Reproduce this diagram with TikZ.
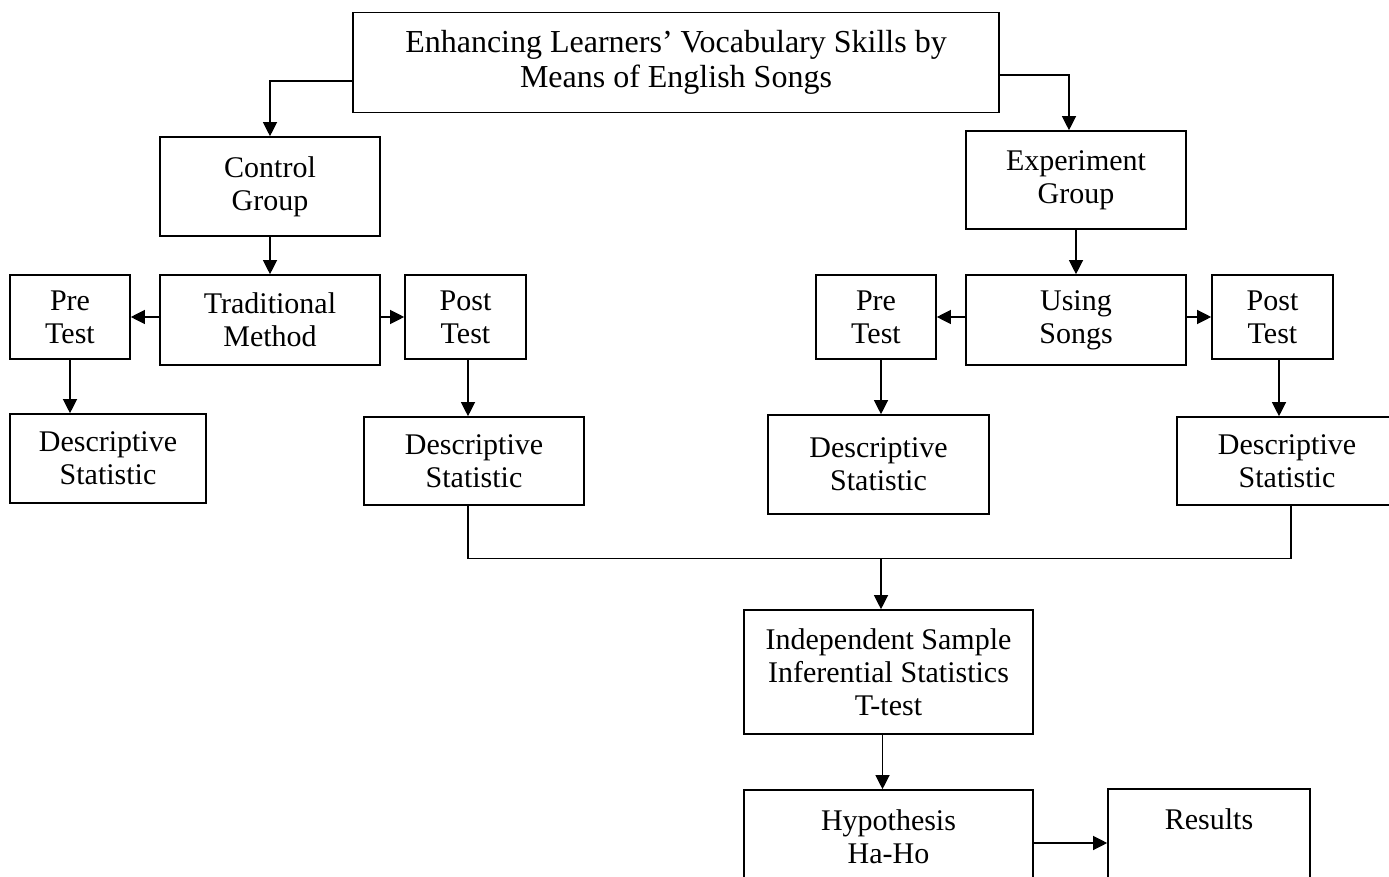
\documentclass[tikz,border=0pt]{standalone}
\usepackage{fontspec}
\setmainfont{Liberation Serif}
\usepackage{tikz}
\usetikzlibrary{arrows.meta,positioning,calc}
\tikzset{
  box/.style={draw,line width=0.8pt,inner sep=0pt,align=center,
              font=\fontsize{15pt}{16.5pt}\selectfont},
  arr/.style={-{Triangle[length=7pt,width=7pt]},line width=0.6pt},
  link/.style={line width=0.6pt},
}

\begin{document}
\begin{tikzpicture}[x=0.5pt,y=-0.5pt]
  \useasboundingbox (0,0) rectangle (1389,877);
  \clip (0,0) rectangle (1389,877);
  %% Title
  \node[box,font=\fontsize{16pt}{17.5pt}\selectfont,minimum width=323pt,minimum height=50pt]
    (title) at (676,62.5) {Enhancing Learners' Vocabulary Skills by\\Means of English Songs};
  %% Control side
  \node[box,minimum width=110pt,minimum height=49.5pt] (ctrl) at (270,186.5) {Control\\Group};
  \node[box,minimum width=110pt,minimum height=45pt] (trad) at (270,320) {Traditional\\Method};
  \node[box,minimum width=60pt,minimum height=42pt] (preC) at (70,317) {Pre\\Test};
  \node[box,minimum width=60.5pt,minimum height=42pt] (postC) at (465.5,317) {Post\\Test};
  \node[box,minimum width=98pt,minimum height=44.5pt] (descA) at (108,458.5) {Descriptive\\Statistic};
  \node[box,minimum width=110pt,minimum height=44pt] (descB) at (474,461) {Descriptive\\Statistic};
  %% Experiment side
  \node[box,minimum width=110pt,minimum height=49pt] (exp) at (1076,180) {Experiment\\Group};
  \node[box,minimum width=110pt,minimum height=45pt] (song) at (1076,320) {Using\\Songs};
  \node[box,minimum width=60pt,minimum height=42pt] (preE) at (876,317) {Pre\\Test};
  \node[box,minimum width=60.5pt,minimum height=42pt] (postE) at (1272.5,317) {Post\\Test};
  \node[box,minimum width=110.5pt,minimum height=49.5pt] (descC) at (878.5,464.5) {Descriptive\\Statistic};
  \node[box,minimum width=110pt,minimum height=44pt] (descD) at (1287,461) {Descriptive\\Statistic};
  %% Analysis
  \node[box,minimum width=144.5pt,minimum height=62pt] (indep) at (888.5,672)
    {Independent Sample\\Inferential Statistics\\T-test};
  \node[box,minimum width=144.5pt,minimum height=47pt] (hyp) at (888.5,837) {Hypothesis\\Ha-Ho};
  \node[box,minimum width=101pt,minimum height=47pt] (res) at (1209,836) {Results\\~};

  %% Connectors
  \draw[arr] ($(title.west)+(0,18.5)$) -| (ctrl.north);
  \draw[arr] ($(title.east)+(0,12.5)$) -| ($(exp.north)+(-7,0)$);
  \draw[arr] (ctrl.south) -- (trad.north);
  \draw[arr] (trad.west |- preC.east) -- (preC.east);
  \draw[arr] (trad.east |- postC.west) -- (postC.west);
  \draw[arr] (exp.south) -- (song.north);
  \draw[arr] (song.west |- preE.east) -- (preE.east);
  \draw[arr] (song.east |- postE.west) -- (postE.west);
  \draw[arr] (preC.south) -- (preC.south |- descA.north);
  \draw[arr] ($(postC.south)+(2.5,0)$) -- ($(postC.south |- descB.north)+(2.5,0)$);
  \draw[arr] ($(preE.south)+(5,0)$) -- ($(preE.south |- descC.north)+(5,0)$);
  \draw[arr] ($(postE.south)+(6.5,0)$) -- ($(postE.south |- descD.north)+(6.5,0)$);
  \draw[link] ($(descB.south)+(-6,0)$) -- ++(0,53) coordinate (mergeL)
    -| ($(descD.south)+(4,0)$);
  \coordinate (merge) at ($(mergeL)+(413,0)$);
  \draw[arr] (merge) -- (merge |- indep.north);
  \draw[arr] ($(indep.south)+(-6,0)$) -- ($(hyp.north)+(-6,0)$);
  \draw[arr] ($(hyp.east)+(0,6)$) -- ($(res.west |- hyp.east)+(0,6)$);
\end{tikzpicture}
\end{document}
